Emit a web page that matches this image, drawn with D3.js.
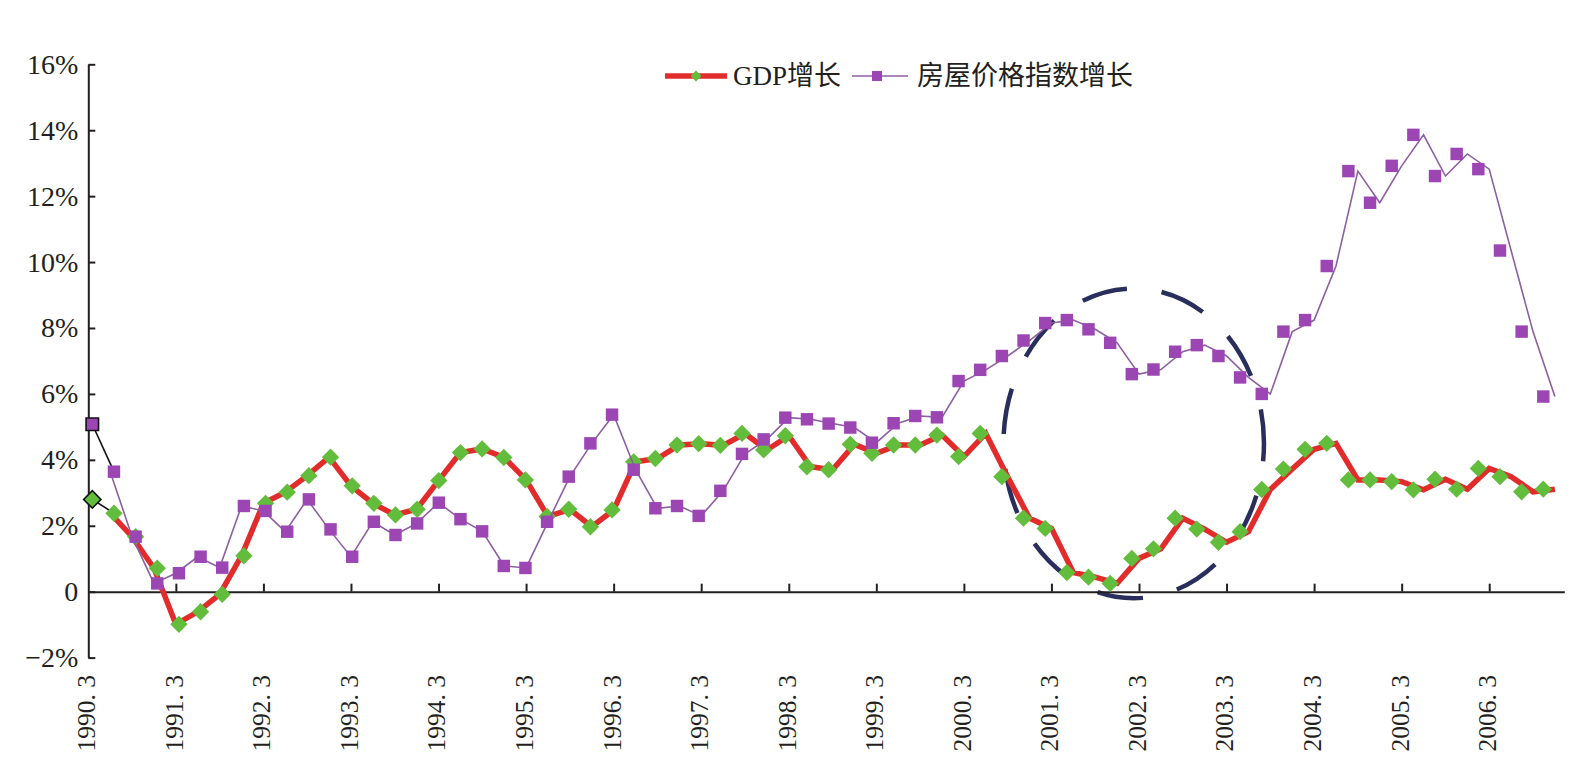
<!DOCTYPE html>
<html><head><meta charset="utf-8">
<script src="https://cdn.jsdelivr.net/npm/d3@7"></script>
<style>body{margin:0;background:#fff}</style>
</head><body>
<svg id="chart" width="1586" height="781"></svg>
<script>
// ---- data ----
const quarters = [
 "1990.3","1990.6","1990.9","1990.12","1991.3","1991.6","1991.9","1991.12",
 "1992.3","1992.6","1992.9","1992.12","1993.3","1993.6","1993.9","1993.12",
 "1994.3","1994.6","1994.9","1994.12","1995.3","1995.6","1995.9","1995.12",
 "1996.3","1996.6","1996.9","1996.12","1997.3","1997.6","1997.9","1997.12",
 "1998.3","1998.6","1998.9","1998.12","1999.3","1999.6","1999.9","1999.12",
 "2000.3","2000.6","2000.9","2000.12","2001.3","2001.6","2001.9","2001.12",
 "2002.3","2002.6","2002.9","2002.12","2003.3","2003.6","2003.9","2003.12",
 "2004.3","2004.6","2004.9","2004.12","2005.3","2005.6","2005.9","2005.12",
 "2006.3","2006.6","2006.9","2006.12"];

const gdpGrowth = [
 2.80,2.38,1.67,0.71,-0.99,-0.61,-0.08,1.09,
 2.68,3.02,3.52,4.08,3.21,2.68,2.33,2.50,
 3.37,4.22,4.33,4.07,3.39,2.28,2.50,1.97,
 2.48,3.94,4.04,4.45,4.49,4.44,4.80,4.30,
 4.73,3.79,3.70,4.47,4.20,4.45,4.45,4.75,
 4.10,4.80,3.49,2.23,1.92,0.58,0.44,0.25,
 1.01,1.30,2.23,1.90,1.50,1.82,3.10,3.72,
 4.32,4.50,3.39,3.39,3.34,3.09,3.41,3.11,
 3.74,3.49,3.03,3.11];

const housePriceGrowth = [
 5.08,3.64,1.67,0.25,0.56,1.06,0.73,2.60,
 2.45,1.82,2.80,1.89,1.06,2.12,1.72,2.07,
 2.70,2.20,1.83,0.78,0.72,2.12,3.49,4.50,
 5.37,3.70,2.53,2.60,2.30,3.06,4.18,4.62,
 5.28,5.23,5.10,4.98,4.52,5.11,5.33,5.29,
 6.39,6.73,7.15,7.62,8.15,8.24,7.96,7.55,
 6.60,6.74,7.28,7.48,7.15,6.50,6.00,7.89,
 8.24,9.88,12.76,11.80,12.92,13.86,12.61,13.28,
 12.82,10.35,7.89,5.92];

const xTickLabels = ["1990. 3","1991. 3","1992. 3","1993. 3","1994. 3","1995. 3",
 "1996. 3","1997. 3","1998. 3","1999. 3","2000. 3","2001. 3","2002. 3","2003. 3",
 "2004. 3","2005. 3","2006. 3"];
const yTicks = [-2,0,2,4,6,8,10,12,14,16];
const seriesNames = ["GDP增长","房屋价格指数增长"];
// dashed ellipse annotation (in quarter index / percent units)
const note = {cx: 47.76, cy: 4.5, rx: 5.95, ry: 4.7};

// ---- chart ----
const svg = d3.select("#chart");
const font = "'Liberation Serif','Times New Roman','Noto Sans CJK SC',serif";
const ink = "#231f20";
const cRed = "#e22c2b", cGreen = "#63bd3c", cPurple = "#9c46b4", cPLine = "#8d5fa0";

const idx = d3.range(quarters.length);
const xLine = d3.scaleLinear().domain([0, 67.43]).range([88.3, 1564.3]);
const xMark = d3.scaleLinear().domain([0, quarters.length - 1]).range([92.3, 1543.3]);
const y = d3.scaleLinear().domain([-2, 16]).range([657.6, 64.3]);

// ellipse
svg.append("ellipse")
  .attr("cx", xLine(note.cx)).attr("cy", y(note.cy))
  .attr("rx", xLine(note.cx + note.rx) - xLine(note.cx))
  .attr("ry", y(note.cy - note.ry) - y(note.cy))
  .attr("fill", "none").attr("stroke", "#2a2e5c").attr("stroke-width", 4.5)
  .attr("stroke-dasharray", "46 35").attr("stroke-dashoffset", 28);

// axes
const yAxis = d3.axisLeft(y).tickValues(yTicks).tickSizeInner(-7).tickSizeOuter(0).tickPadding(10)
  .tickFormat(d => d === 0 ? "0" : (d < 0 ? "\u2212" : "") + Math.abs(d) + "%");
const gy = svg.append("g").attr("transform", "translate(88.3,0)").call(yAxis);
gy.select(".domain").attr("stroke", ink).attr("stroke-width", 2);
gy.selectAll(".tick line").attr("stroke", ink).attr("stroke-width", 2);
gy.selectAll(".tick text").attr("font-family", font).attr("font-size", 28).attr("fill", ink);

const xAxis = d3.axisBottom(xLine).tickValues(d3.range(4, 65, 4)).tickSizeInner(-8).tickSizeOuter(0).tickFormat("");
const gx = svg.append("g").attr("transform", `translate(0,${y(0)})`).call(xAxis);
gx.select(".domain").attr("stroke", ink).attr("stroke-width", 2);
gx.selectAll(".tick line").attr("stroke", ink).attr("stroke-width", 2);

svg.append("g").selectAll("text").data(xTickLabels).join("text")
  .attr("transform", (d, i) => `translate(${xLine(i * 4) - 2},675) rotate(-90)`)
  .attr("text-anchor", "end").attr("dy", "0.35em")
  .attr("font-family", font).attr("font-size", 25.5).attr("fill", ink)
  .text(d => d);

// lines (from second point on)
const lineGen = vals => d3.line().x(i => xLine(i)).y(i => y(vals[i]))(idx.slice(1));
svg.append("path").attr("d", lineGen(gdpGrowth)).attr("fill", "none")
  .attr("stroke", cRed).attr("stroke-width", 5.5).attr("stroke-linejoin", "miter");

// first-point connectors (black)
const conn = vals => d3.line().x(i => xMark(i)).y(i => y(vals[i]))([0, 1]);
svg.append("path").attr("d", conn(gdpGrowth)).attr("fill", "none").attr("stroke", "#111").attr("stroke-width", 1.6);

const sq = d3.symbol().type(d3.symbolSquare);
svg.append("g").selectAll("path").data(idx).join("path")
  .attr("d", sq.size(150)())
  .attr("transform", i => `translate(${xMark(i)},${y(gdpGrowth[i])}) rotate(45)`)
  .attr("fill", cGreen)
  .attr("stroke", i => i === 0 ? "#111" : "none").attr("stroke-width", 1.6);

svg.append("path").attr("d", lineGen(housePriceGrowth)).attr("fill", "none")
  .attr("stroke", cPLine).attr("stroke-width", 1.6);
svg.append("path").attr("d", conn(housePriceGrowth)).attr("fill", "none").attr("stroke", "#111").attr("stroke-width", 1.6);

svg.append("g").selectAll("path").data(idx).join("path")
  .attr("d", d3.symbol().type(d3.symbolSquare).size(155)())
  .attr("transform", i => `translate(${xMark(i)},${y(housePriceGrowth[i])})`)
  .attr("fill", cPurple)
  .attr("stroke", i => i === 0 ? "#111" : "none").attr("stroke-width", 1.6);

// legend
const lg = svg.append("g");
lg.append("line").attr("x1", 665).attr("x2", 727).attr("y1", 76).attr("y2", 76)
  .attr("stroke", cRed).attr("stroke-width", 5.5);
lg.append("path").attr("d", d3.symbol().type(d3.symbolSquare).size(60)())
  .attr("transform", "translate(696,76) rotate(45)").attr("fill", cGreen);
lg.append("text").attr("x", 733).attr("y", 85).attr("font-family", font)
  .attr("font-size", 27).attr("fill", ink).text(seriesNames[0]);
lg.append("line").attr("x1", 852).attr("x2", 908).attr("y1", 76).attr("y2", 76)
  .attr("stroke", cPLine).attr("stroke-width", 1.6);
lg.append("path").attr("d", d3.symbol().type(d3.symbolSquare).size(100)())
  .attr("transform", "translate(877,76)").attr("fill", cPurple);
lg.append("text").attr("x", 917).attr("y", 85).attr("font-family", font)
  .attr("font-size", 27).attr("fill", ink).text(seriesNames[1]);
</script>
</body></html>
